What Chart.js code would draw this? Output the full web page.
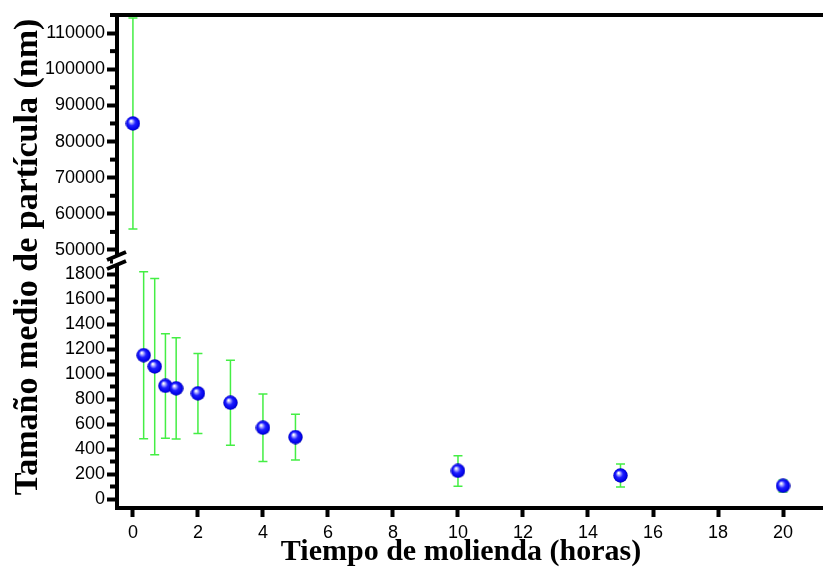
<!DOCTYPE html>
<html>
<head>
<meta charset="utf-8">
<script src="https://cdn.jsdelivr.net/npm/chart.js@4.4.0/dist/chart.umd.min.js"></script>
<style>
  html, body { margin: 0; padding: 0; background: #fff; overflow: hidden; }
  #wrap { width: 823px; height: 567px; }
</style>
</head>
<body>
<div id="wrap"><canvas id="grafico"></canvas></div>
<script>
// datos
const tiempo = [0, 0.33, 0.67, 1, 1.33, 2, 3, 4, 5, 10, 15, 20];
const tamano = [85000, 1150, 1060, 905, 885, 845, 770, 570, 495, 225, 188, 105];
const error = [29200, 668, 705, 418, 405, 320, 340, 270, 183, 122, 92, 48];

const ticksX = [0, 2, 4, 6, 8, 10, 12, 14, 16, 18, 20];
const ticksAlto = [50000, 60000, 70000, 80000, 90000, 100000, 110000];
const ticksBajo = [0, 200, 400, 600, 800, 1000, 1200, 1400, 1600, 1800];

const corte = 2000; // valores por encima van al tramo superior

const puntosAlto = [];
const puntosBajo = [];
tiempo.forEach((t, i) => {
  const p = { x: t, y: tamano[i], e: error[i] };
  if (tamano[i] > corte) puntosAlto.push(p);
  else puntosBajo.push(p);
});

// esfera azul
const esfera = document.createElement("canvas");
esfera.width = 15;
esfera.height = 15;
(() => {
  const c = esfera.getContext("2d");
  const g = c.createRadialGradient(5.5, 5, 0.5, 7.5, 7.5, 7.5);
  g.addColorStop(0, "#ffffff");
  g.addColorStop(0.2, "#9a9aff");
  g.addColorStop(0.45, "#1e1eff");
  g.addColorStop(0.85, "#0000e6");
  g.addColorStop(1, "#000090");
  c.fillStyle = g;
  c.beginPath();
  c.arc(7.5, 7.5, 7.2, 0, Math.PI * 2);
  c.fill();
})();

const fuente = { family: "'Liberation Sans', Arial, sans-serif", size: 18 };

const barrasError = {
  id: "barrasError",
  beforeDatasetsDraw(chart) {
    const ctx = chart.ctx;
    const xs = chart.scales.x;
    ctx.save();
    ctx.strokeStyle = "#44ee44";
    ctx.lineWidth = 1.5;
    chart.data.datasets.forEach((ds, i) => {
      const ys = chart.scales[chart.getDatasetMeta(i).yAxisID];
      ds.data.forEach((p) => {
        const x = xs.getPixelForValue(p.x);
        const y1 = ys.getPixelForValue(p.y + p.e);
        const y2 = ys.getPixelForValue(p.y - p.e);
        ctx.beginPath();
        ctx.moveTo(x, y1);
        ctx.lineTo(x, y2);
        ctx.moveTo(x - 4.5, y1);
        ctx.lineTo(x + 4.5, y1);
        ctx.moveTo(x - 4.5, y2);
        ctx.lineTo(x + 4.5, y2);
        ctx.stroke();
      });
    });
    ctx.restore();
  },
  afterDraw(chart) {
    const ctx = chart.ctx;
    const area = chart.chartArea;
    const yA = chart.scales.yAlto;
    const yB = chart.scales.yBajo;
    ctx.save();
    ctx.strokeStyle = "#000";
    ctx.fillStyle = "#000";

    // ticks menores
    ctx.lineWidth = 4;
    [[yA, 10000], [yB, 200]].forEach(([s, paso]) => {
      s.ticks.forEach((t) => {
        const v = t.value + paso / 2;
        if (v > s.max) return;
        const y = s.getPixelForValue(v);
        ctx.beginPath();
        ctx.moveTo(area.left - 7, y);
        ctx.lineTo(area.left, y);
        ctx.stroke();
      });
    });

    // borde superior
    ctx.beginPath();
    ctx.moveTo(area.left - 3, area.top);
    ctx.lineTo(area.right, area.top);
    ctx.stroke();

    // corte del eje
    const b = yA.bottom;
    ctx.fillStyle = "#fff";
    ctx.fillRect(area.left - 4, b - 5, 8, 10);
    ctx.beginPath();
    ctx.moveTo(area.left - 10, b - 1);
    ctx.lineTo(area.left + 9, b - 9);
    ctx.moveTo(area.left - 10, b + 8);
    ctx.lineTo(area.left + 9, b);
    ctx.stroke();

    // titulos
    ctx.fillStyle = "#000";
    ctx.textAlign = "center";
    ctx.textBaseline = "middle";
    ctx.font = "bold 34px 'Liberation Serif', 'Times New Roman', serif";
    ctx.save();
    ctx.translate(28, 257);
    ctx.rotate(-Math.PI / 2);
    ctx.fillText("Tamaño medio de partícula (nm)", 0, 0);
    ctx.restore();
    ctx.font = "bold 30px 'Liberation Serif', 'Times New Roman', serif";
    ctx.fillText("Tiempo de molienda (horas)", 461, 552);
    ctx.restore();
  },
};

const ejeY = (min, max, lista, peso) => ({
  type: "linear",
  position: "left",
  stack: "tamano",
  stackWeight: peso,
  min: min,
  max: max,
  afterBuildTicks: (s) => {
    s.ticks = lista.map((v) => ({ value: v }));
  },
  afterFit: (s) => {
    s.width = 117;
    s.paddingTop = 0;
    s.paddingBottom = 0;
  },
  border: { display: true, width: 4, color: "#000" },
  grid: {
    drawOnChartArea: false,
    drawTicks: true,
    tickLength: 10,
    tickWidth: 4,
    tickColor: "#000",
  },
  ticks: {
    color: "#000",
    font: fuente,
    padding: 2,
    autoSkip: false,
    callback: (v) => String(v),
  },
});

new Chart(document.getElementById("grafico"), {
  type: "scatter",
  data: {
    datasets: [
      { data: puntosAlto, yAxisID: "yAlto", pointStyle: esfera, pointRadius: 7 },
      { data: puntosBajo, yAxisID: "yBajo", pointStyle: esfera, pointRadius: 7 },
    ],
  },
  plugins: [barrasError],
  options: {
    responsive: true,
    maintainAspectRatio: false,
    animation: false,
    layout: { autoPadding: false, padding: { top: 15, left: 0, right: 0, bottom: 0 } },
    plugins: { legend: { display: false }, tooltip: { enabled: false } },
    scales: {
      x: {
        type: "linear",
        min: -0.49,
        max: 21.23,
        afterBuildTicks: (s) => {
          s.ticks = ticksX.map((v) => ({ value: v }));
        },
        afterFit: (s) => {
          s.height = 59;
          s.paddingLeft = 0;
          s.paddingRight = 0;
        },
        border: { display: true, width: 4, color: "#000" },
        grid: {
          drawOnChartArea: false,
          drawTicks: true,
          tickLength: 9,
          tickWidth: 4,
          tickColor: "#000",
        },
        ticks: { color: "#000", font: fuente, padding: 5, maxRotation: 0, autoSkip: false },
      },
      yBajo: ejeY(-72, 1904, ticksBajo, 247),
      yAlto: ejeY(46957, 115000, ticksAlto, 246),
    },
  },
});
</script>
</body>
</html>
